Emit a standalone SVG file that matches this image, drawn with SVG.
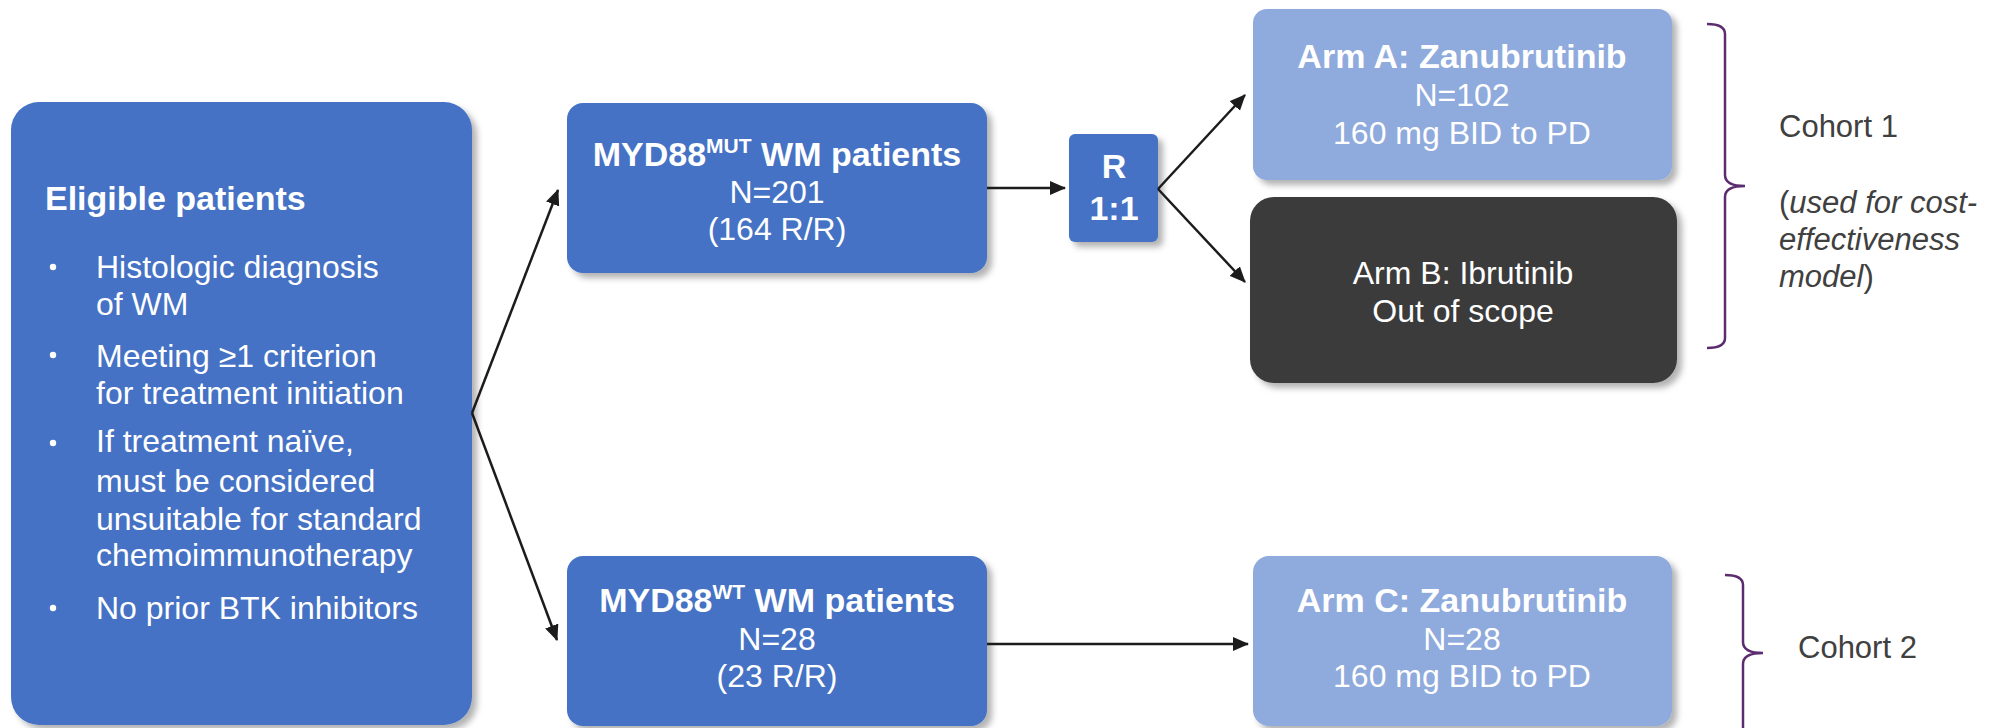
<svg xmlns="http://www.w3.org/2000/svg" width="2006" height="728" viewBox="0 0 2006 728">
<defs>
  <filter id="sh" x="-10%" y="-10%" width="130%" height="130%">
    <feDropShadow dx="5" dy="5" stdDeviation="3" flood-color="#000" flood-opacity="0.3"/>
  </filter>
  <marker id="ah" markerUnits="userSpaceOnUse" markerWidth="16" markerHeight="14" refX="15" refY="7" orient="auto">
    <path d="M0,0 L16,7 L0,14 z" fill="#1c1c1c"/>
  </marker>
  <style>
    text{font-family:"Liberation Sans",Arial,sans-serif;fill:#fff}
    .b{font-weight:bold;font-size:34px}
    .r{font-size:32px}
    .c{text-anchor:middle}
    .dark{fill:#3a3a3a}
    .blue{fill:#4472c4}
    .lb{fill:#8faadc}
    .conn{stroke:#1c1c1c;stroke-width:2.5;fill:none;marker-end:url(#ah)}
    .br{stroke:#5b2c6f;stroke-width:2.5;fill:none}
    .note{fill:#404040;font-size:31px}
  </style>
</defs>
<rect width="2006" height="728" fill="#fff"/>

<g id="eligible">
  <rect x="11" y="102" width="461" height="623" rx="28" class="blue" filter="url(#sh)"/>
  <text x="45" y="210" class="b">Eligible patients</text>
  <circle cx="53" cy="267" r="3.2" fill="#fff"/>
  <circle cx="53" cy="355" r="3.2" fill="#fff"/>
  <circle cx="53" cy="443" r="3.2" fill="#fff"/>
  <circle cx="53" cy="608" r="3.2" fill="#fff"/>
  <text x="96" y="278" class="r">Histologic diagnosis</text>
  <text x="96" y="315" class="r">of WM</text>
  <text x="96" y="367" class="r">Meeting ≥1 criterion</text>
  <text x="96" y="404" class="r">for treatment initiation</text>
  <text x="96" y="452" class="r">If treatment naïve,</text>
  <text x="96" y="492" class="r">must be considered</text>
  <text x="96" y="530" class="r">unsuitable for standard</text>
  <text x="96" y="566" class="r">chemoimmunotherapy</text>
  <text x="96" y="619" class="r">No prior BTK inhibitors</text>
</g>

<g id="mut">
  <rect x="567" y="103" width="420" height="170" rx="16" class="blue" filter="url(#sh)"/>
  <text x="777" y="166" class="b c">MYD88<tspan font-size="21" dy="-13">MUT</tspan><tspan dy="13"> WM patients</tspan></text>
  <text x="777" y="203" class="r c">N=201</text>
  <text x="777" y="240" class="r c">(164 R/R)</text>
</g>

<g id="rand">
  <rect x="1069" y="134" width="89" height="108" rx="6" class="blue" filter="url(#sh)"/>
  <text x="1114" y="178" class="b c" font-size="33">R</text>
  <text x="1114" y="220" class="b c" font-size="33">1:1</text>
</g>

<g id="armA">
  <rect x="1253" y="9" width="419" height="171" rx="14" class="lb" filter="url(#sh)"/>
  <text x="1462" y="68" class="b c">Arm A: Zanubrutinib</text>
  <text x="1462" y="106" class="r c">N=102</text>
  <text x="1462" y="144" class="r c">160 mg BID to PD</text>
</g>

<g id="armB">
  <rect x="1250" y="197" width="427" height="186" rx="24" class="dark" filter="url(#sh)"/>
  <text x="1463" y="284" class="r c">Arm B: Ibrutinib</text>
  <text x="1463" y="322" class="r c">Out of scope</text>
</g>

<g id="wt">
  <rect x="567" y="556" width="420" height="170" rx="16" class="blue" filter="url(#sh)"/>
  <text x="777" y="612" class="b c">MYD88<tspan font-size="21" dy="-13">WT</tspan><tspan dy="13"> WM patients</tspan></text>
  <text x="777" y="650" class="r c">N=28</text>
  <text x="777" y="687" class="r c">(23 R/R)</text>
</g>

<g id="armC">
  <rect x="1253" y="556" width="419" height="170" rx="16" class="lb" filter="url(#sh)"/>
  <text x="1462" y="612" class="b c">Arm C: Zanubrutinib</text>
  <text x="1462" y="650" class="r c">N=28</text>
  <text x="1462" y="687" class="r c">160 mg BID to PD</text>
</g>

<g id="connectors">
  <line x1="472" y1="413" x2="558" y2="190" class="conn"/>
  <line x1="472" y1="413" x2="557" y2="640" class="conn"/>
  <line x1="987" y1="188" x2="1065" y2="188" class="conn"/>
  <line x1="1158" y1="189" x2="1245" y2="95" class="conn"/>
  <line x1="1158" y1="189" x2="1245" y2="282" class="conn"/>
  <line x1="987" y1="644" x2="1248" y2="644" class="conn"/>
</g>

<g id="cohort1">
  <path class="br" d="M1707,24 Q1725,24 1725,34 L1725,175 Q1725,186 1745,186 Q1725,186 1725,197 L1725,338 Q1725,348 1707,348"/>
  <text x="1779" y="137" class="note">Cohort 1</text>
  <text x="1779" y="213" class="note">(<tspan font-style="italic">used for cost-</tspan></text>
  <text x="1779" y="250" class="note" font-style="italic">effectiveness</text>
  <text x="1779" y="287" class="note"><tspan font-style="italic">model</tspan>)</text>
</g>

<g id="cohort2">
  <path class="br" d="M1725,575 Q1743,575 1743,585 L1743,642 Q1743,653 1763,653 Q1743,653 1743,664 L1743,740"/>
  <text x="1798" y="658" class="note">Cohort 2</text>
</g>
</svg>
